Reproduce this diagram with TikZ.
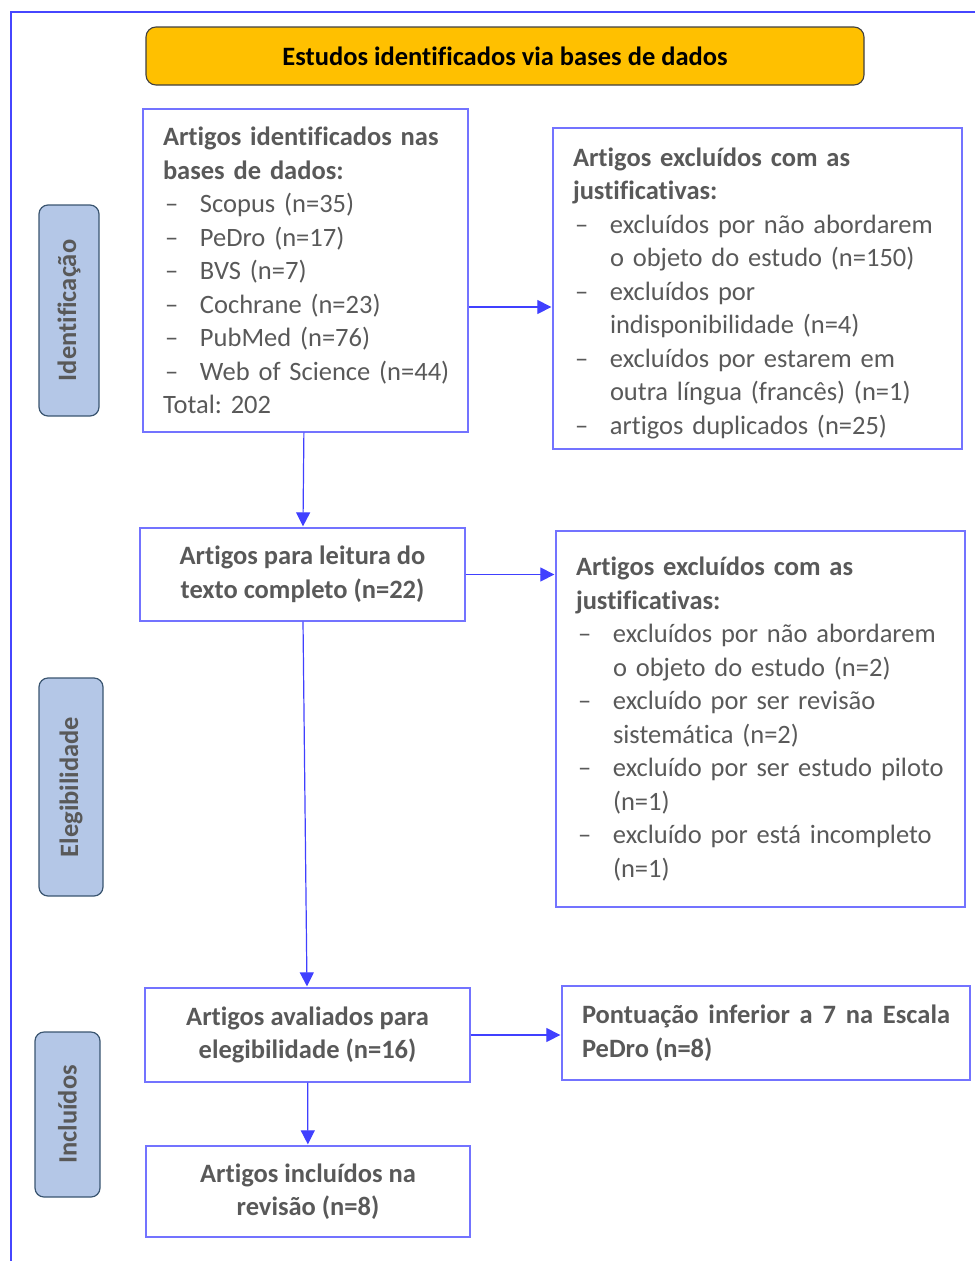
\documentclass[tikz,border=0pt]{standalone}
\usepackage{fontspec}
\setmainfont{Carlito}[Ligatures={TeX,NoCommon}]
\usepackage{tikz}
\usetikzlibrary{arrows.meta, positioning}
\frenchspacing

\definecolor{txtgray}{HTML}{595959}
\definecolor{framebl}{HTML}{4646FF}
\definecolor{boxbl}{HTML}{7373FF}
\definecolor{arrbl}{HTML}{4040FF}
\definecolor{sidefill}{HTML}{B4C7E7}
\definecolor{sidedraw}{HTML}{3A5570}
\definecolor{titlefill}{HTML}{FFC000}

\newcommand{\itm}{\makebox[37pt][l]{\hspace{2pt}–}}
\newcommand{\ind}{\hspace*{37pt}}

\tikzset{
  box/.style={draw=boxbl, line width=1.3pt, text=txtgray, inner xsep=20pt, inner ysep=0pt,
    font=\fontsize{26.5}{33.5}\selectfont},
  listbox/.style={box, align=left},
  midbox/.style={box, align=center, font=\fontsize{26.5}{33.5}\selectfont\bfseries},
  sidebox/.style={draw=sidedraw, fill=sidefill, line width=1.2pt, rounded corners=9pt, rotate=90,
    text=txtgray, font=\fontsize{26.5}{33.5}\selectfont\bfseries},
  arr/.style={draw=arrbl, line width=1.2pt, -{Triangle[length=14pt,width=14pt]}, shorten >=1pt}
}

\begin{document}
\begin{tikzpicture}[x=1pt, y=-1pt]
        \useasboundingbox (0,0) rectangle (975,1261);
        % outer frame
        \draw[framebl, line width=2pt] (975,12) -- (11,12) -- (11,1261);
        % Define the nodes
        \node[draw=black!75, fill=titlefill, line width=1.1pt, rounded corners=10pt,
              minimum width=718pt, minimum height=58pt,
              font=\fontsize{26.5}{33.5}\selectfont\bfseries] (title) at (505,56)
              {Estudos identificados via bases de dados};
        \node[sidebox, minimum width=211pt, minimum height=60pt] (ident) at (69,310.5) {Identificação};
        \node[sidebox, minimum width=218pt, minimum height=64pt] (eleg) at (71,787) {Elegibilidade};
        \node[sidebox, minimum width=165pt, minimum height=65pt] (incl) at (67.5,1114.5) {Incluídos};
        \node[listbox, minimum width=325pt, minimum height=323pt, text width=285pt] (ident_db) at (305.5,270.5)
              {\textbf{Artigos identificados nas}\\ \textbf{bases de dados:}\\
               \itm Scopus (n=35)\\ \itm PeDro (n=17)\\ \itm BVS (n=7)\\ \itm Cochrane (n=23)\\
               \itm PubMed (n=76)\\ \itm \mbox{Web of Science (n=44)}\\ Total: 202};
        \node[listbox, minimum width=409pt, minimum height=321pt, text width=369pt] (excl_1) at (757.5,288.5)
              {\rule{0pt}{28pt}\textbf{Artigos excluídos com as}\\ \textbf{justificativas:}\\
               \itm excluídos por não abordarem\\ \ind o objeto do estudo (n=150)\\
               \itm excluídos por\\ \ind indisponibilidade (n=4)\\
               \itm excluídos por estarem em\\ \ind outra língua (francês) (n=1)\\
               \itm artigos duplicados (n=25)};
        \node[midbox, minimum width=325pt, minimum height=93pt] (full_text) at (302.5,574.5)
              {Artigos para leitura do\\ texto completo (n=22)};
        \node[listbox, minimum width=409pt, minimum height=376pt, text width=369pt] (excl_2) at (760.5,719)
              {\textbf{Artigos excluídos com as}\\ \textbf{justificativas:}\\
               \itm excluídos por não abordarem\\ \ind o objeto do estudo (n=2)\\
               \itm excluído por ser revisão\\ \ind sistemática (n=2)\\
               \itm excluído por ser estudo piloto\\ \ind (n=1)\\
               \itm excluído por está incompleto\\ \ind (n=1)};
        \node[midbox, minimum width=325pt, minimum height=94pt] (eval) at (307.5,1035)
              {Artigos avaliados para\\ elegibilidade (n=16)};
        \node[box, align=justify, minimum width=408pt, minimum height=94pt, text width=368pt,
              font=\fontsize{26.5}{33.5}\selectfont\bfseries] (excl_3) at (766,1033)
              {Pontuação inferior a 7 na Escala PeDro (n=8)};
        \node[midbox, minimum width=324pt, minimum height=91pt] (incl_rev) at (308,1191.5)
              {Artigos incluídos na\\ revisão (n=8)};
        % Define the transitions
        \path[arr] (ident_db) -- (full_text);
        \path[arr] (ident_db.east |- 0,307) -- (excl_1.west |- 0,307);
        \path[arr] (full_text.east) -- (excl_2.west |- full_text.east);
        \path[arr] (full_text) -- (eval);
        \path[arr] (eval.east) -- (excl_3.west |- eval.east);
        \path[arr] (eval) -- (incl_rev);
\end{tikzpicture}
\end{document}
